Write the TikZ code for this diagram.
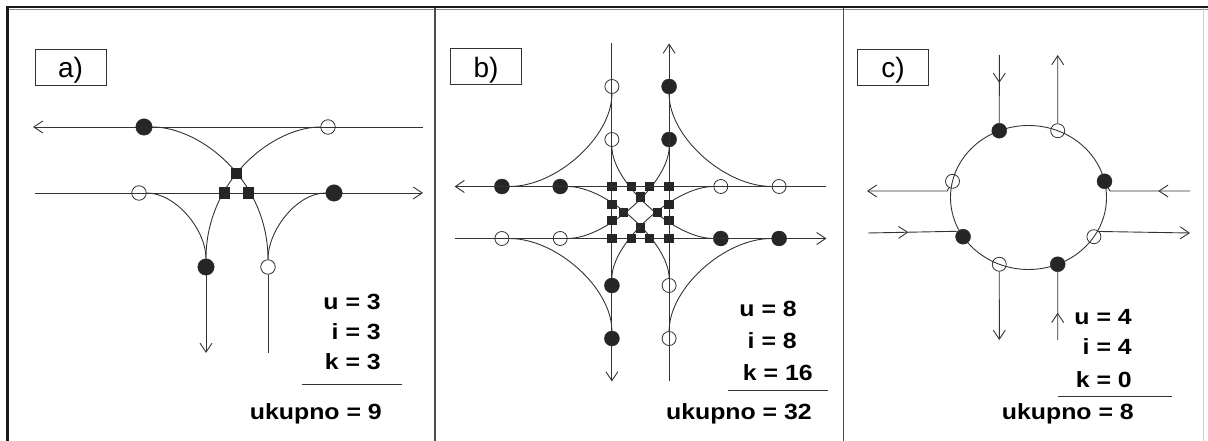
\documentclass[tikz,border=0pt]{standalone}
\usepackage{fontspec}
\setmainfont{Liberation Sans}
\usetikzlibrary{arrows.meta,decorations.markings}

\newcommand{\wtxt}[1]{\scalebox{1.13}[1]{#1}}

\tikzset{
  road/.style={draw=black!80, line width=0.9pt},
  arr/.style={-{Straight Barb[length=9pt,width=12pt]}},
  midarrow/.style={postaction={decorate}, decoration={markings, mark=at position #1 with {\arrow{Straight Barb[length=9pt,width=12pt]}}}},
  merge/.style={circle, draw=black!85, fill=black!85, inner sep=0pt, minimum size=15pt},
  diverge/.style={circle, draw=black!80, line width=0.8pt, inner sep=0pt, minimum size=14pt},
  conflict/.style={rectangle, fill=black!85, inner sep=0pt, minimum size=9.5pt},
  tag/.style={draw=black!80, line width=0.8pt, inner sep=0pt, minimum width=71pt, minimum height=36pt, text height=22pt, text depth=0pt, font=\fontsize{28}{30}\selectfont},
  res/.style={inner sep=0pt, anchor=base east, font=\fontsize{22}{25}\selectfont\bfseries}
}

\begin{document}
\begin{tikzpicture}[x=1pt, y=1pt]
\useasboundingbox (0,0) rectangle (1208,441);

% frame
\draw[line width=2.5pt, black!90] (7.5,0) -- (7.5,434) -- (1208,434);
\draw[line width=0.8pt, black!45] (9,431.5) -- (1208,431.5);
\draw[line width=1.2pt, black!70] (435,0) -- (435,433) (843.5,0) -- (843.5,433);
\draw[line width=0.8pt, black!20] (1203,0) -- (1203,433);

% a) T-intersection
\node[tag] (ta) at (70.5,374) {a)};
\begin{scope}[merge/.append style={minimum size=16.5pt}, diverge/.append style={minimum size=14.5pt}, conflict/.append style={minimum size=11.5pt}]
\draw[road, arr] (423,314) -- (33,314);
\draw[road, arr] (35,248) -- (423,248);
\node[merge] (m1) at (144,314) {};
\node[diverge] (d1) at (328,314) {};
\node[diverge] (d2) at (139,248) {};
\node[merge] (m2) at (334,248) {};
\node[merge] (m3) at (206,174) {};
\node[diverge] (d3) at (268,174) {};
\coordinate (sa) at (206,88);
\coordinate (sb) at (268,88);
\draw[road, arr] (m3) -- (sa);
\draw[road] (sb) -- (d3);
\draw[road] (m1) .. controls (200,314) and (268,261) .. (d3);
\draw[road] (d1) .. controls (273,314) and (206,261) .. (m3);
\draw[road] (d2) .. controls (176,248) and (206,211) .. (m3);
\draw[road] (m2) .. controls (297,248) and (268,211) .. (d3);
\node[conflict] (k1) at (236.5,267.5) {};
\node[conflict] (k2) at (224.3,248) {};
\node[conflict] (k3) at (248.7,248) {};
\end{scope}
\node[res] (ua) at (381,131) {\wtxt{u = 3}};
\node[res] (ia) at (381,101) {\wtxt{i = 3}};
\node[res] (ka) at (381,71) {\wtxt{k = 3}};
\draw[road] (302,57) -- (402,57);
\node[res] (sa) at (382,21) {\wtxt{ukupno = 9}};

% b) four-leg intersection
\node[tag] (tb) at (486,374.5) {b)};
\begin{scope}[shift={(640.5,228.5)}, xscale=1.1]
\foreach \ang in {0,90,180,270}{
  \begin{scope}[rotate=\ang]
  \draw[road, arr] (-26,169) -- (-26,-169);
  \node[diverge] (o1\ang) at (-26,126) {};
  \node[diverge] (o2\ang) at (-26,73) {};
  \node[merge] (n1\ang) at (-126,26) {};
  \node[merge] (n2\ang) at (73,-26) {};
  \draw[road] (o1\ang) .. controls (-26,76) and (-76,26) .. (n1\ang);
  \draw[road] (o2\ang) .. controls (-26,30.3) and (30.3,-26) .. (n2\ang);
  \node[conflict] (q1\ang) at (-26,26) {};
  \node[conflict] (q2\ang) at (-8.2,26) {};
  \node[conflict] (q3\ang) at (26,-8.2) {};
  \node[conflict] (q4\ang) at (0,15.5) {};
  \end{scope}
}
\end{scope}
\node[res] (ub) at (797,124) {\wtxt{u = 8}};
\node[res] (ib) at (797,92) {\wtxt{i = 8}};
\node[res] (kb) at (813,60) {\wtxt{k = 16}};
\draw[road] (728,50.5) -- (828,50.5);
\node[res] (sb) at (812,21) {\wtxt{ukupno = 32}};

% c) roundabout
\node[tag] (tc) at (893,374) {c)};
\coordinate (rc) at (1028.5,243.5);
\draw[road] (rc) ellipse [x radius=78, y radius=72];
\node[merge] (c1) at ([shift={(112:78 and 72)}]rc) {};
\node[diverge] (c2) at ([shift={(68:78 and 72)}]rc) {};
\node[merge] (c3) at ([shift={(13:78 and 72)}]rc) {};
\node[diverge] (c4) at ([shift={(-33:78 and 72)}]rc) {};
\node[merge] (c5) at ([shift={(-68:78 and 72)}]rc) {};
\node[diverge] (c6) at ([shift={(-112:78 and 72)}]rc) {};
\node[merge] (c7) at ([shift={(213:78 and 72)}]rc) {};
\node[diverge] (c8) at ([shift={(167:78 and 72)}]rc) {};
\coordinate (e1) at (999.3,386);
\coordinate (e2) at (1057.7,386);
\coordinate (e3) at (1190,250);
\coordinate (e4) at (1190,208);
\coordinate (e5) at (1057.7,101);
\coordinate (e6) at (999.3,101);
\coordinate (e7) at (868,208);
\coordinate (e8) at (867,250);
\draw[road, midarrow=0.41] (e1) -- (c1);
\draw[road, arr] (c2) -- (e2);
\draw[road, midarrow=0.38] (e3) -- (e3 -| c3.south east) -- (c3);
\draw[road, arr] (c4.north east) -- (e4);
\draw[road, midarrow=0.4] (e5) -- (c5);
\draw[road, arr] (c6) -- (e6);
\draw[road, midarrow=0.45] (e7) -- (c7.north west);
\draw[road, arr] (c8) -- (c8.south west |- e8) -- (e8);
\node[res] (uc) at (1132,116) {\wtxt{u = 4}};
\node[res] (ic) at (1132,86) {\wtxt{i = 4}};
\node[res] (kc) at (1132,53) {\wtxt{k = 0}};
\draw[road] (1058,45) -- (1172,45);
\node[res] (sc) at (1134,21) {\wtxt{ukupno = 8}};
\end{tikzpicture}
\end{document}
